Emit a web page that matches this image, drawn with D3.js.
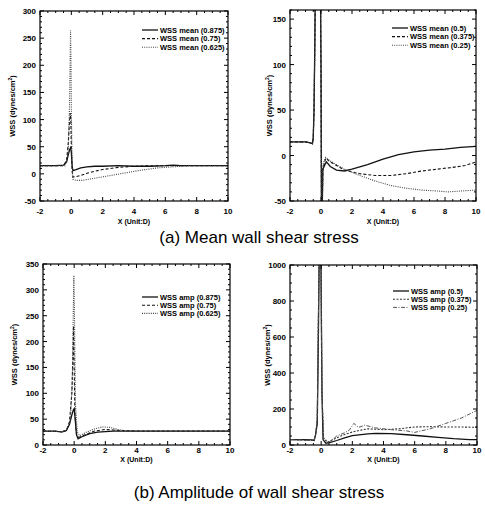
<!DOCTYPE html>
<html>
<head>
<meta charset="utf-8">
<script src="https://cdn.jsdelivr.net/npm/d3@7"></script>
<style>
  body { margin: 0; background: #fff; }
  svg { display: block; font-family: "Liberation Sans", Arial, sans-serif; }
</style>
</head>
<body>
<div id="chart"></div>
<script>
// ---- data ----
const xTicks = [-2, 0, 2, 4, 6, 8, 10];

// (a) mean WSS, narrow panel
const meanLabelsL = ["WSS mean (0.875)", "WSS mean (0.75)", "WSS mean (0.625)"];
const mean875 = [[-2,15],[-1,15],[-0.5,16],[-0.3,22],[-0.2,35],[-0.1,45],[-0.05,48],[0,40],[0.05,15],[0.1,6],[0.3,8],[0.6,11],[1,13],[1.5,14],[2,14],[3,15],[4,14],[5,14],[6,15],[6.5,16],[7,15],[8,15],[9,15],[10,15]];
const mean75 = [[-2,15],[-0.5,15],[-0.3,25],[-0.2,55],[-0.12,95],[-0.07,112],[-0.03,95],[0,50],[0.05,5],[0.1,-6],[0.3,-5],[0.6,-3],[1,1],[1.5,5],[2,8],[3,12],[4,14],[5,15],[6,15],[8,15],[10,15]];
const mean625 = [[-2,15],[-0.4,15],[-0.2,40],[-0.12,120],[-0.08,200],[-0.05,265],[-0.02,200],[0,120],[0.05,20],[0.1,-10],[0.3,-12],[0.7,-12],[1.5,-8],[2.5,-3],[3.5,2],[4.5,7],[5.5,11],[6.5,13],[7.5,15],[10,15]];

// (a) mean WSS, wide panel
const meanLabelsR = ["WSS mean (0.5)", "WSS mean (0.375)", "WSS mean (0.25)"];
const mean50 = [[-2,15],[-1,15],[-0.7,14],[-0.55,13],[-0.5,20],[-0.45,50],[-0.4,120],[-0.35,220],[-0.05,220],[0,100],[0.03,-60],[0.08,-60],[0.12,-15],[0.25,-10],[0.35,-7],[0.6,-12],[1,-16],[1.5,-17],[2,-15],[3,-10],[4,-4],[5,1],[6,4],[7,6],[8,7],[9,9],[10,10]];
const mean375 = [[-2,15],[-1,15],[-0.7,14],[-0.55,13],[-0.5,20],[-0.45,50],[-0.4,120],[-0.35,220],[-0.05,220],[0,100],[0.03,-60],[0.08,-60],[0.12,-15],[0.3,-3],[0.6,-7],[1,-11],[1.5,-16],[2.5,-20],[3.5,-22],[4.5,-22],[5.5,-20],[6.5,-17],[7.5,-15],[8.5,-13],[9.3,-11],[10,-7]];
const mean25 = [[-2,15],[-1,15],[-0.7,14],[-0.55,13],[-0.5,20],[-0.45,50],[-0.4,120],[-0.35,220],[-0.05,220],[0,100],[0.03,-60],[0.08,-60],[0.12,-10],[0.3,-2],[0.6,-6],[1,-10],[1.5,-15],[2.5,-22],[3.5,-28],[4.5,-33],[5.5,-36],[6.5,-38],[7.5,-39],[8.2,-40],[9,-39],[10,-38]];

// (b) amplitude, narrow panel
const ampLabelsL = ["WSS amp (0.875)", "WSS amp (0.75)", "WSS amp (0.625)"];
const amp875 = [[-2,27],[-1.2,27],[-0.8,25],[-0.5,28],[-0.3,40],[-0.15,58],[-0.05,68],[0,70],[0.05,55],[0.15,20],[0.25,12],[0.5,16],[1,22],[1.5,25],[2.5,27],[4,27],[6,27],[8,27],[10,27]];
const amp75 = [[-2,27],[-0.8,26],[-0.5,28],[-0.3,45],[-0.15,100],[-0.08,170],[-0.04,230],[0,150],[0.05,60],[0.15,20],[0.3,15],[0.7,20],[1.3,27],[2,30],[2.5,29],[3,28],[4,27],[10,27]];
const amp625 = [[-2,27],[-0.8,26],[-0.5,28],[-0.25,45],[-0.12,120],[-0.06,250],[-0.02,328],[0.02,250],[0.08,80],[0.2,25],[0.35,18],[0.8,25],[1.3,31],[1.8,35],[2.3,34],[2.8,30],[3.2,28],[4,27],[10,27]];

// (b) amplitude, wide panel
const ampLabelsR = ["WSS amp (0.5)", "WSS amp (0.375)", "WSS amp (0.25)"];
const amp50 = [[-2,30],[-1,30],[-0.6,28],[-0.45,25],[-0.35,60],[-0.25,120],[-0.18,600],[-0.12,1100],[-0.02,1100],[0.05,300],[0.12,30],[0.3,10],[0.6,15],[1,25],[1.5,40],[2,52],[3,62],[3.5,65],[4.5,63],[5.5,57],[6.5,50],[7.5,42],[8.5,35],[9.5,30],[10,30]];
const amp375 = [[-2,30],[-0.45,25],[-0.35,60],[-0.25,150],[-0.18,700],[-0.12,1100],[-0.02,1100],[0.05,300],[0.15,40],[0.4,15],[1,40],[1.5,58],[2,72],[2.5,82],[3,90],[4,85],[5,90],[6,100],[7,102],[8,100],[9,100],[10,98]];
const amp25 = [[-2,30],[-0.45,25],[-0.35,60],[-0.25,150],[-0.18,700],[-0.12,1100],[-0.02,1100],[0.05,300],[0.15,40],[0.5,15],[1,50],[1.5,68],[1.8,82],[2.1,120],[2.4,98],[2.8,110],[3.5,95],[4.5,85],[5.5,78],[6,70],[7,90],[8,120],[9,150],[10,192]];

const yTicksMeanL = [-50, 0, 50, 100, 150, 200, 250, 300];
const yTicksMeanR = [-50, 0, 50, 100, 150];
const yTicksAmpL = [0, 50, 100, 150, 200, 250, 300, 350];
const yTicksAmpR = [0, 200, 400, 600, 800, 1000];

const styles = [
  { dash: null, width: 1.3, color: "#111" },
  { dash: "3,2", width: 1.1, color: "#111" },
  { dash: "1,1.2", width: 1.1, color: "#444" }
];

const W = 485, H = 508;
const svg = d3.select("#chart").append("svg").attr("width", W).attr("height", H);
const defs = svg.append("defs");

function drawPanel(cfg, idx) {
  const { x0, x1, y0, y1 } = cfg.box;
  const x = d3.scaleLinear().domain([-2, 10]).range([x0, x1]);
  const y = d3.scaleLinear().domain(cfg.yDomain).range([y1, y0]);
  const g = svg.append("g");

  defs.append("clipPath").attr("id", "clip" + idx)
    .append("rect").attr("x", x0).attr("y", y0).attr("width", x1 - x0).attr("height", y1 - y0);

  const line = d3.line().x(d => x(d[0])).y(d => y(d[1]));
  const plot = g.append("g").attr("clip-path", `url(#clip${idx})`);
  cfg.series.forEach((s, i) => {
    const st = cfg.styles ? cfg.styles[i] : styles[i];
    plot.append("path").datum(s)
      .attr("fill", "none")
      .attr("stroke", st.color)
      .attr("stroke-width", st.width)
      .attr("stroke-dasharray", st.dash)
      .attr("d", line);
  });

  // frame
  g.append("rect").attr("x", x0).attr("y", y0).attr("width", x1 - x0).attr("height", y1 - y0)
    .attr("fill", "none").attr("stroke", "#000").attr("stroke-width", 1.2);

  // inward ticks on all four sides
  const ticks = g.append("g").attr("stroke", "#000").attr("stroke-width", 1);
  const xMinor = d3.range(-2, 10.01, 0.5);
  xMinor.forEach(v => {
    const len = (Math.abs(v % 2) < 1e-6) ? 4 : 2;
    ticks.append("line").attr("x1", x(v)).attr("x2", x(v)).attr("y1", y1).attr("y2", y1 - len);
    ticks.append("line").attr("x1", x(v)).attr("x2", x(v)).attr("y1", y0).attr("y2", y0 + len);
  });
  const yMinor = d3.range(cfg.yDomain[0], cfg.yDomain[1] + 0.01, cfg.yMinor);
  yMinor.forEach(v => {
    const len = cfg.yTicks.includes(v) ? 4 : 2;
    ticks.append("line").attr("y1", y(v)).attr("y2", y(v)).attr("x1", x0).attr("x2", x0 + len);
    ticks.append("line").attr("y1", y(v)).attr("y2", y(v)).attr("x1", x1).attr("x2", x1 - len);
  });

  // tick labels
  g.selectAll(null).data(xTicks).enter().append("text")
    .attr("x", d => x(d)).attr("y", cfg.xLabelY)
    .attr("text-anchor", "middle").attr("font-size", 8).attr("font-weight", "bold")
    .text(d => d);
  g.selectAll(null).data(cfg.yTicks).enter().append("text")
    .attr("x", x0 - 4).attr("y", d => y(d) + 3)
    .attr("text-anchor", "end").attr("font-size", 8).attr("font-weight", "bold")
    .text(d => d);

  // axis titles
  g.append("text").attr("x", (x0 + x1) / 2).attr("y", cfg.xTitleY)
    .attr("text-anchor", "middle").attr("font-size", 7).attr("font-weight", "bold")
    .text("X (Unit:D)");
  const yt = g.append("text")
    .attr("transform", `translate(${cfg.yTitleX},${(y0 + y1) / 2}) rotate(-90)`)
    .attr("text-anchor", "middle").attr("font-size", 7.5).attr("font-weight", "bold");
  yt.append("tspan").text("WSS (dynes/cm");
  yt.append("tspan").attr("font-size", 5).attr("dy", -3).text("2");
  yt.append("tspan").attr("dy", 3).text(")");

  // legend
  const lg = g.append("g");
  cfg.labels.forEach((lab, i) => {
    const st = cfg.styles ? cfg.styles[i] : styles[i];
    const ly = cfg.legend.y + i * cfg.legend.dy;
    lg.append("line").attr("x1", cfg.legend.x).attr("x2", cfg.legend.x + 16)
      .attr("y1", ly).attr("y2", ly)
      .attr("stroke", st.color).attr("stroke-width", st.width).attr("stroke-dasharray", st.dash);
    lg.append("text").attr("x", cfg.legend.x + 18).attr("y", ly + 2.6)
      .attr("font-size", 7.5).attr("font-weight", "bold").text(lab);
  });
}

const panels = [
  { box: { x0: 40, x1: 228, y0: 11, y1: 201 }, yDomain: [-50, 300], yTicks: yTicksMeanL, yMinor: 10,
    series: [mean875, mean75, mean625], labels: meanLabelsL,
    xLabelY: 214, xTitleY: 224, yTitleX: 15, legend: { x: 142, y: 30, dy: 8.6 } },
  { box: { x0: 290, x1: 476, y0: 10, y1: 201 }, yDomain: [-50, 160], yTicks: yTicksMeanR, yMinor: 10,
    series: [mean50, mean375, mean25], labels: meanLabelsR,
    xLabelY: 214, xTitleY: 224, yTitleX: 272, legend: { x: 392, y: 28, dy: 8.6 } },
  { box: { x0: 43, x1: 230, y0: 264, y1: 445 }, yDomain: [0, 350], yTicks: yTicksAmpL, yMinor: 10,
    series: [amp875, amp75, amp625], labels: ampLabelsL,
    xLabelY: 452.5, xTitleY: 462, yTitleX: 17, legend: { x: 142, y: 297, dy: 8.2 } },
  { box: { x0: 290, x1: 477, y0: 265, y1: 445 }, yDomain: [0, 1000], yTicks: yTicksAmpR, yMinor: 50,
    series: [amp50, amp375, amp25], labels: ampLabelsR,
    styles: [styles[0], { dash: "2,1.5", width: 1.1, color: "#333" }, { dash: "4,1.5,1,1.5", width: 1, color: "#555" }],
    xLabelY: 452.5, xTitleY: 462, yTitleX: 270, legend: { x: 393, y: 291, dy: 8.2 } }
];

panels.forEach(drawPanel);

// panel captions
svg.append("text").attr("x", 259).attr("y", 243).attr("text-anchor", "middle")
  .attr("font-size", 17).text("(a) Mean wall shear stress");
svg.append("text").attr("x", 259).attr("y", 498).attr("text-anchor", "middle")
  .attr("font-size", 17).text("(b) Amplitude of wall shear stress");
</script>
</body>
</html>
